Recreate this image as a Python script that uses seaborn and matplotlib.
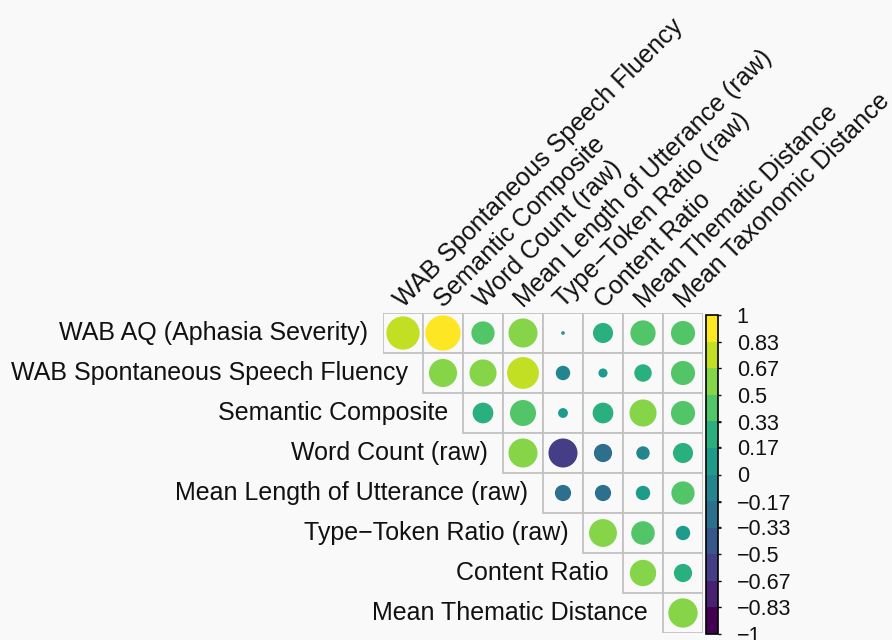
import numpy as np
import pandas as pd
import matplotlib
matplotlib.use("Agg")
import matplotlib.pyplot as plt
import matplotlib.colors as mcolors
from matplotlib.patches import Rectangle
import seaborn as sns

row_labels = ["WAB AQ (Aphasia Severity)", "WAB Spontaneous Speech Fluency",
              "Semantic Composite", "Word Count (raw)",
              "Mean Length of Utterance (raw)", "Type\u2212Token Ratio (raw)",
              "Content Ratio", "Mean Thematic Distance"]
col_labels = ["WAB Spontaneous Speech Fluency", "Semantic Composite",
              "Word Count (raw)", "Mean Length of Utterance (raw)",
              "Type\u2212Token Ratio (raw)", "Content Ratio",
              "Mean Thematic Distance", "Mean Taxonomic Distance"]

# correlations (upper triangle, row i starts at column i)
r_wab_aq = [0.80, 0.90, 0.39, 0.61, 0.01, 0.29, 0.46, 0.42]
r_fluency = [0.57, 0.53, 0.73, -0.15, 0.06, 0.22, 0.42]
r_semantic = [0.31, 0.49, 0.07, 0.31, 0.53, 0.42]
r_wordcount = [0.61, -0.61, -0.24, -0.13, 0.29]
r_mlu = [-0.19, -0.19, 0.15, 0.39]
r_ttr = [0.56, 0.40, 0.15]
r_content = [0.50, 0.24]
r_thematic = [0.62]
rows = [r_wab_aq, r_fluency, r_semantic, r_wordcount, r_mlu, r_ttr, r_content, r_thematic]

cbar_ticks = [1, 0.83, 0.67, 0.5, 0.33, 0.17, 0, -0.17, -0.33, -0.5, -0.67, -0.83, -1]

recs = []
for i, vals in enumerate(rows):
    for k, v in enumerate(vals):
        recs.append({"row": i, "col": i + k, "r": v, "absr": abs(v)})
df = pd.DataFrame(recs)
df["x"] = df["col"] + 0.5
df["y"] = df["row"] + 0.5

bg = "#f9f9f9"
fig = plt.figure(figsize=(8.92, 6.4), dpi=100, facecolor=bg)
ax = fig.add_axes([383 / 892, 7 / 640, 320 / 892, 320 / 640])
ax.set_facecolor(bg)

n = 8
# grid cells
for i in range(n):
    for j in range(i, n):
        ax.add_patch(Rectangle((j, i), 1, 1, facecolor=bg, edgecolor="#c2c2c2",
                               lw=1.3, zorder=1))

bounds = np.linspace(-1, 1, 13)
cmap = mcolors.ListedColormap(plt.get_cmap("viridis")(np.linspace(0, 1, 12)))
norm = mcolors.BoundaryNorm(bounds, cmap.N)
df["color"] = [mcolors.to_hex(cmap(norm(v))) for v in df["r"]]

cell_pt = 40 * 72 / 100
smax = (0.93 * cell_pt) ** 2
sns.scatterplot(data=df, x="x", y="y", size="absr", sizes=(0, smax), size_norm=(0, 1),
                hue="color", palette={c: c for c in df["color"].unique()},
                legend=False, linewidth=0, ax=ax, zorder=3)
ax.set_xlim(0, n)
ax.set_ylim(n, 0)
ax.set_aspect("equal")
ax.axis("off")

for i, lab in enumerate(row_labels):
    ax.text(i - 0.37, i + 0.5, lab, ha="right", va="center", fontsize=18,
            family="Liberation Sans", color="#111111")
for j, lab in enumerate(col_labels):
    ax.text(j + 0.52, -0.11, lab, ha="left", va="baseline", rotation=45,
            rotation_mode="anchor", fontsize=18, family="Liberation Sans",
            color="#111111", clip_on=False)

cax = fig.add_axes([706 / 892, 6 / 640, 12 / 892, 319 / 640])
sm = matplotlib.cm.ScalarMappable(norm=norm, cmap=cmap)
cb = fig.colorbar(sm, cax=cax, ticks=cbar_ticks, boundaries=bounds)
cb.ax.set_yticklabels([("%g" % t).replace("-", "\u2212") for t in cbar_ticks],
                      fontsize=15.5, family="Liberation Sans")
cb.ax.tick_params(direction="out", length=2.5, width=1, pad=11, colors="#111111")
cb.outline.set_linewidth(1.2)

fig.savefig("out.png", dpi=100, facecolor=bg)
